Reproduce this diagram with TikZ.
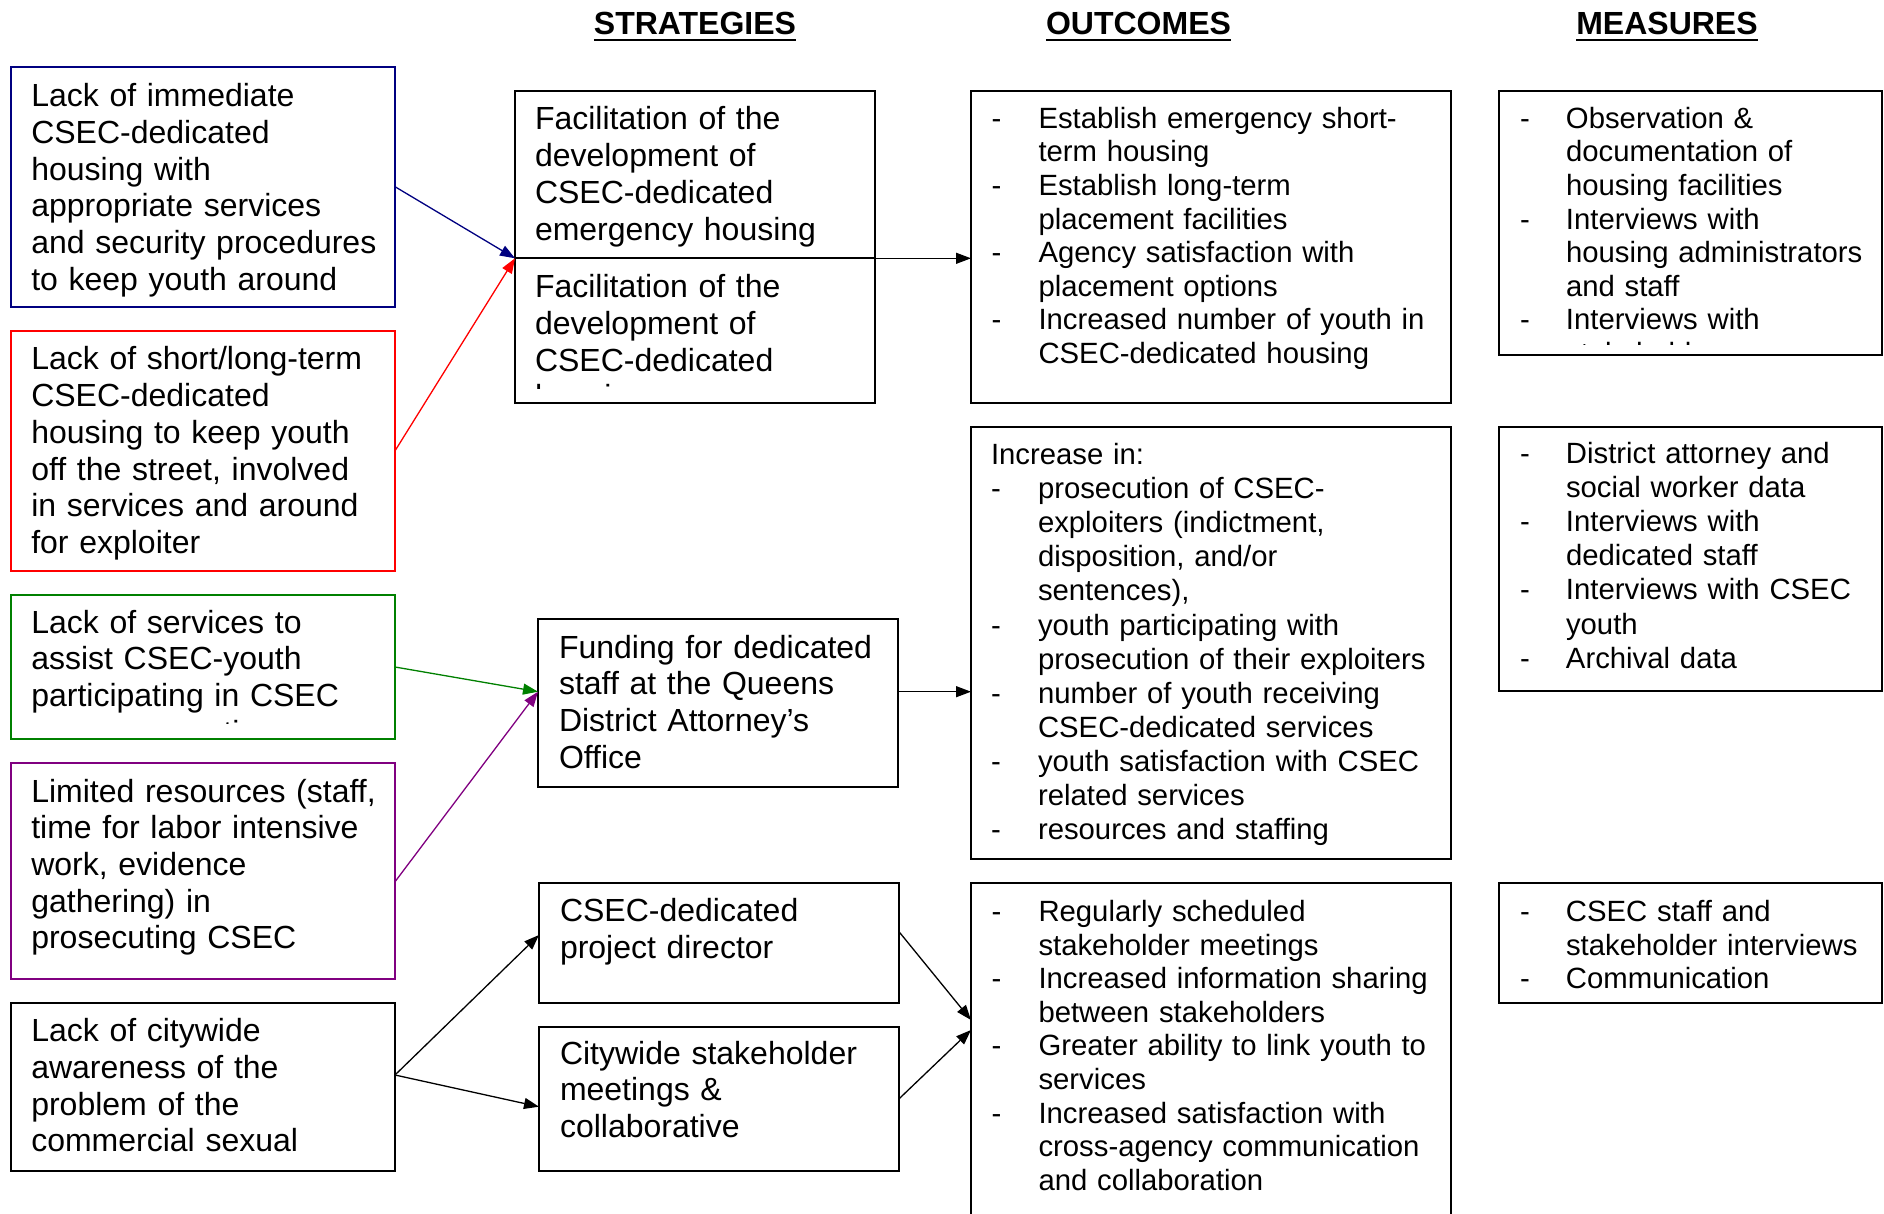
\documentclass[tikz,border=0pt]{standalone}
\usepackage{fontspec}
\setmainfont{Liberation Sans}
\usetikzlibrary{arrows.meta}

\definecolor{pnavy}{RGB}{0,0,128}
\definecolor{pred}{RGB}{255,0,0}
\definecolor{pgreen}{RGB}{0,128,0}
\definecolor{ppurple}{RGB}{128,0,128}

% dash bullets with hanging text (outcomes / measures columns)
\newcommand\oitem{\makebox[47pt][l]{-}}
\newcommand\ocont{\hspace*{47pt}}
\newcommand\mitem{\makebox[46pt][l]{-}}
\newcommand\mcont{\hspace*{46pt}}

\tikzset{
  boxn/.style={draw, line width=2pt, fill=white, rectangle, inner sep=0pt,
    outer sep=0pt, anchor=north west},
  sz/.style 2 args={minimum width=#1pt, minimum height=#2pt},
  ptxt/.style={anchor=base west, inner sep=0pt, outer sep=0pt, text width=700pt,
    align=left, font=\fontsize{32pt}{36.67pt}\selectfont},
  otxt/.style={anchor=base west, inner sep=0pt, outer sep=0pt, text width=700pt,
    align=left, font=\fontsize{29.3pt}{33.6pt}\selectfont},
  otxtw/.style={otxt, font=\fontsize{29.3pt}{34.1pt}\selectfont},
  hdr/.style={anchor=base, inner sep=0pt, font=\bfseries\fontsize{32pt}{38pt}\selectfont},
  arr/.style={line width=1.3pt, -{Triangle[length=15pt,width=11pt]}},
}

\begin{document}
\begin{tikzpicture}[x=1pt, y=-1pt]
\useasboundingbox (0,0) rectangle (1884,1214);
\clip (0,0) rectangle (1884,1214);

% column headings
\node[hdr] (hS) at (695,35) {STRATEGIES};
\node[hdr] (hO) at (1138.5,35) {OUTCOMES};
\node[hdr] (hM) at (1667,35) {MEASURES};
\foreach \h in {hS,hO,hM}
  \draw[line width=2.6pt] ([yshift=-5pt]\h.base west) -- ([yshift=-5pt]\h.base east);

% problem boxes
\node[boxn, draw=pnavy,   sz={384.5}{240}]   (p1) at (10.5,66.7) {};
\node[boxn, draw=pred,    sz={384.5}{240.3}] (p2) at (10.5,330.7) {};
\node[boxn, draw=pgreen,  sz={384.5}{144}]   (p3) at (10.5,595) {};
\node[boxn, draw=ppurple, sz={384.5}{216.3}] (p4) at (10.5,762.7) {};
\node[boxn,               sz={384.5}{168.3}] (p5) at (10.5,1002.7) {};

% strategy boxes
\node[boxn, sz={360}{167.6}] (sA) at (515,90.7) {};
\node[boxn, sz={360}{144.4}] (sB) at (515,258.3) {};
\node[boxn, sz={360}{168}]   (s2) at (538,619) {};
\node[boxn, sz={360}{120.3}] (s3) at (539,882.7) {};
\node[boxn, sz={360}{144.3}] (s4) at (539,1026.7) {};

% outcome boxes
\node[boxn, sz={480}{312}]   (o1) at (971,90.7) {};
\node[boxn, sz={480}{432.3}] (o2) at (971,426.7) {};
\node[boxn, sz={480}{367}]   (o3) at (971,882.7) {};

% measure boxes
\node[boxn, sz={383}{264.3}] (m1) at (1499,90.7) {};
\node[boxn, sz={383}{264.3}] (m2) at (1499,426.7) {};
\node[boxn, sz={383}{120.3}] (m3) at (1499,882.7) {};

% problem texts
\node[ptxt] (p1t) at (31.3,106.7) {Lack of immediate\\CSEC-dedicated\\housing with\\appropriate services\\and security procedures\\to keep youth around};
\node[ptxt] (p2t) at (31.3,370) {Lack of short/long-term\\CSEC-dedicated\\housing to keep youth\\off the street, involved\\in services and around\\for exploiter};
\begin{scope}
  \clip (10.5,595) rectangle (395,723.5);
  \node[ptxt] (p3t) at (31.3,633) {Lack of services to\\assist CSEC-youth\\participating in CSEC\\case prosecution};
\end{scope}
\node[ptxt] (p4t) at (31.3,802) {Limited resources (staff,\\time for labor intensive\\work, evidence\\gathering) in\\prosecuting CSEC};
\node[ptxt] (p5t) at (31.3,1041.7) {Lack of citywide\\awareness of the\\problem of the\\commercial sexual};

% strategy texts
\node[ptxt] (sAt) at (535,130) {Facilitation of the\\development of\\CSEC-dedicated\\emergency housing};
\begin{scope}
  \clip (515,258.3) rectangle (875,388.5);
  \node[ptxt] (sBt) at (535,297.7) {Facilitation of the\\development of\\CSEC-dedicated\\housing};
\end{scope}
\node[ptxt] (s2t) at (559,658.3) {Funding for dedicated\\staff at the Queens\\District Attorney’s\\Office};
\node[ptxt] (s3t) at (560,921.7) {CSEC-dedicated\\project director};
\node[ptxt] (s4t) at (560,1064) {Citywide stakeholder\\meetings \&\\collaborative};

% outcome texts
\node[otxt] (o1t) at (991.5,128.3) {\oitem Establish emergency short-\\\ocont term housing\\\oitem Establish long-term\\\ocont placement facilities\\\oitem Agency satisfaction with\\\ocont placement options\\\oitem Increased number of youth in\\\ocont CSEC-dedicated housing};
\node[otxtw] (o2t) at (991,464.5) {Increase in:\\\oitem prosecution of CSEC-\\\ocont exploiters (indictment,\\\ocont disposition, and/or\\\ocont sentences),\\\oitem youth participating with\\\ocont prosecution of their exploiters\\\oitem number of youth receiving\\\ocont CSEC-dedicated services\\\oitem youth satisfaction with CSEC\\\ocont related services\\\oitem resources and staffing};
\node[otxt] (o3t) at (991.5,921.5) {\oitem Regularly scheduled\\\ocont stakeholder meetings\\\oitem Increased information sharing\\\ocont between stakeholders\\\oitem Greater ability to link youth to\\\ocont services\\\oitem Increased satisfaction with\\\ocont cross-agency communication\\\ocont and collaboration};

% measure texts
\begin{scope}
  \clip (1499,90.7) rectangle (1882,345);
  \node[otxt] (m1t) at (1520,128.3) {\mitem Observation \&\\\mcont documentation of\\\mcont housing facilities\\\mitem Interviews with\\\mcont housing administrators\\\mcont and staff\\\mitem Interviews with\\\mcont stakeholders};
\end{scope}
\node[otxtw] (m2t) at (1520,463.5) {\mitem District attorney and\\\mcont social worker data\\\mitem Interviews with\\\mcont dedicated staff\\\mitem Interviews with CSEC\\\mcont youth\\\mitem Archival data};
\node[otxt] (m3t) at (1520,921.5) {\mitem CSEC staff and\\\mcont stakeholder interviews\\\mitem Communication};

% connectors
\draw[arr, pnavy] (p1.east) -- (sA.south west);
\draw[arr, pred] (p2.east) -- (sA.south west);
\draw[arr] (sA.south west) -- (sA.south west -| o1.west);

\draw[arr, pgreen] (p3.east) -- ([yshift=11.3pt]s2.west);
\draw[arr, ppurple] ([yshift=-10.9pt]p4.east) -- ([yshift=11.3pt]s2.west);
\coordinate (fundout) at ([yshift=11.3pt]s2.east);
\draw[arr] (fundout) -- (fundout -| o2.west);

\draw[arr] ([yshift=11.85pt]p5.east) -- ([yshift=7.85pt]s3.west);
\draw[arr] ([yshift=11.85pt]p5.east) -- ([yshift=-7.85pt]s4.west);
\draw[arr] ([yshift=11.15pt]s3.east) -- ([yshift=-137.3pt]o3.north west);
\draw[arr] (s4.east) -- ([yshift=-147.3pt]o3.north west);
\end{tikzpicture}
\end{document}
